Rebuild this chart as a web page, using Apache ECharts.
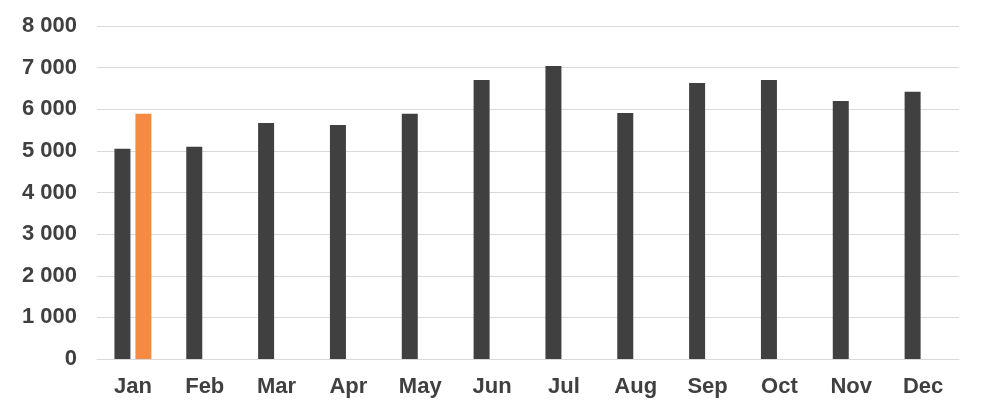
<!DOCTYPE html>
<html>
<head>
<meta charset="utf-8">
<script src="https://cdn.jsdelivr.net/npm/echarts@6/dist/echarts.min.js"></script>
<style>
html,body{margin:0;padding:0;background:#fff;}
#chart{width:986px;height:414px;}
</style>
</head>
<body>
<div id="chart"></div>
<script>
var categories = ['Jan','Feb','Mar','Apr','May','Jun','Jul','Aug','Sep','Oct','Nov','Dec'];
var series2019 = [5050, 5100, 5670, 5620, 5890, 6700, 7040, 5910, 6630, 6700, 6200, 6420];
var series2020 = [5890, null, null, null, null, null, null, null, null, null, null, null];
var yTicks = {min: 0, max: 8000, interval: 1000};

function fmt(v){
  return String(v).replace(/\B(?=(\d{3})+(?!\d))/g, ' ');
}

var chart = echarts.init(document.getElementById('chart'), null, {renderer:'canvas'});
chart.setOption({
  animation: false,
  backgroundColor: '#ffffff',
  textStyle: {fontFamily: 'Liberation Sans, Arial, sans-serif'},
  grid: {left: 97, right: 27, top: 26, bottom: 55, containLabel: false},
  xAxis: {
    type: 'category',
    data: categories,
    axisLine: {show: true, lineStyle: {color: '#d9d9d9', width: 1}},
    axisTick: {show: false},
    axisLabel: {color: '#404040', fontSize: 22, fontWeight: 'bold', margin: 17, interval: 0}
  },
  yAxis: {
    type: 'value',
    min: yTicks.min, max: yTicks.max, interval: yTicks.interval,
    axisLine: {show: false},
    axisTick: {show: false},
    splitLine: {show: true, lineStyle: {color: '#d9d9d9', width: 1}},
    axisLabel: {color: '#404040', fontSize: 22, fontWeight: 'bold', margin: 20, formatter: fmt}
  },
  series: [
    {name: '2019', type: 'bar', data: series2019, barWidth: 16, barGap: '31%', itemStyle: {color: '#404040'}},
    {name: '2020', type: 'bar', data: series2020, barWidth: 16, itemStyle: {color: '#F58B43'}}
  ]
});
</script>
</body>
</html>
